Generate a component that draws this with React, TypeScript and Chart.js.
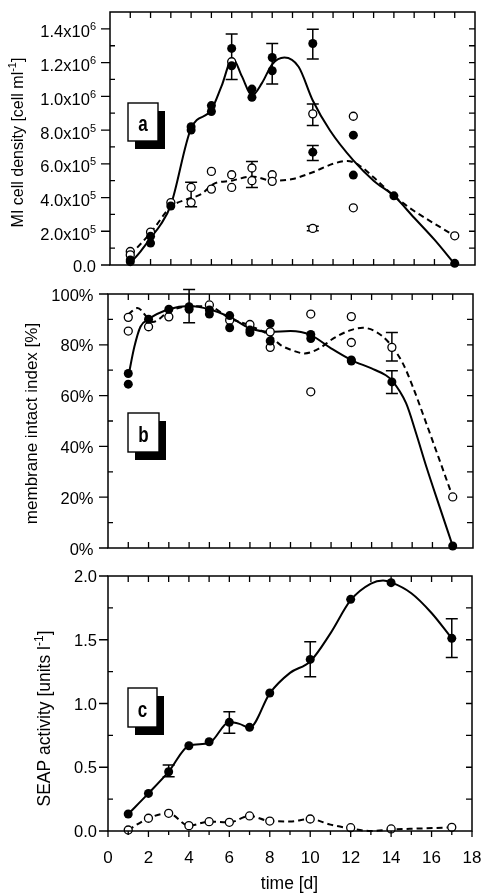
import React, { useEffect, useRef } from 'react';
import { Chart, registerables } from 'chart.js';

Chart.register(...registerables);

const FONT = '"Liberation Sans", Arial, Helvetica, sans-serif';

type Pair = [number, number];
type ErrBar = [number, number, number]; // day, low, high

// ---------- shared time axis ----------
const timeTicks = [0, 2, 4, 6, 8, 10, 12, 14, 16, 18];
const timeTickLabels = ['0', '2', '4', '6', '8', '10', '12', '14', '16', '18'];

// ---------- (a) MI cell density [cell/ml] ----------
const densityFilled: Pair[] = [
  [1, 30000], [1, 20000], [2, 130000], [2, 170000], [3, 350000], [4, 820000], [4, 800000],
  [5, 945000], [5, 910000], [6, 1284000], [6, 1181000], [7, 1043000], [7, 994000],
  [8, 1230000], [8, 1152000], [10, 1313000], [10, 669000], [12, 770000], [12, 533000],
  [14, 410000], [17, 10000],
];
const densityOpen: Pair[] = [
  [1, 80000], [1, 60000], [2, 195000], [3, 370000], [4, 460000], [4, 370000], [5, 555000],
  [5, 450000], [6, 1205000], [6, 535000], [6, 460000], [7, 575000], [7, 500000], [8, 535000],
  [8, 496000], [10, 896000], [10, 217000], [12, 882000], [12, 339000], [17, 173000],
];
const densityErrors: ErrBar[] = [
  [4, 345000, 490000], [6, 1100000, 1370000], [7, 459000, 614000], [8, 1073000, 1313000],
  [10, 1221000, 1398000], [10, 620000, 709000], [10, 827000, 955000], [10, 203000, 230000],
];
const densityFitSolid: Pair[] = [
  [1, 10000], [1.5, 80000], [2, 160000], [2.5, 240000], [3, 355000], [4, 810000], [5, 920000],
  [5.5, 1060000], [6.05, 1225000], [6.5, 1120000], [7, 1005000], [7.5, 1080000], [8, 1190000],
  [8.6, 1230000], [9.3, 1175000], [10, 975000], [10.85, 797000], [12, 620000], [13, 500000],
  [14, 410000], [15, 280000], [16, 150000], [17, 5000],
];
const densityFitDashed: Pair[] = [
  [1, 60000], [2, 190000], [3, 345000], [3.8, 390000], [4.5, 420000], [5.1, 480000],
  [6, 500000], [7, 525000], [8, 500000], [9, 510000], [10, 550000], [11, 600000],
  [11.7, 617000], [12.3, 590000], [13, 520000], [14, 410000], [15, 320000], [16, 245000],
  [17, 173000],
];
const densityTicks = [0, 200000, 400000, 600000, 800000, 1000000, 1200000, 1400000];
const densityTickLabels = ['0.0', '2.0x10', '4.0x10', '6.0x10', '8.0x10', '1.0x10', '1.2x10', '1.4x10'];
const densityTickExps = ['', '5', '5', '5', '5', '6', '6', '6'];

// ---------- (b) membrane intact index [%] ----------
const intactFilled: Pair[] = [
  [1, 68.7], [1, 64.5], [2, 90.1], [3, 94], [4, 95], [4, 94], [5, 93.7], [5, 92.1],
  [6, 91.5], [6, 86.7], [7, 85.8], [7, 84.8], [8, 88.4], [8, 81.5], [10, 84.1], [10, 82.5],
  [12, 74], [12, 73.6], [14, 65.4], [17, 0.8],
];
const intactOpen: Pair[] = [
  [1, 90.8], [1, 85.4], [2, 87.1], [3, 91], [5, 95.7], [6, 89.7], [7, 88], [8, 85.1],
  [8, 79], [10, 92.1], [10, 61.5], [12, 91.1], [12, 80.9], [14, 79], [17, 20.1],
];
const intactErrors: ErrBar[] = [[4, 88.7, 101.8], [14, 73.6, 84.8], [14, 60.8, 69.8]];
const intactFitSolid: Pair[] = [
  [1, 67.4], [1.3, 79.2], [1.6, 87.1], [2, 90.1], [3, 94], [4, 95.3], [5, 94], [6, 91],
  [7, 86.5], [8, 85.1], [9, 85.4], [10, 83.8], [11, 78.6], [12, 74], [13, 70.7], [13.7, 68],
  [14, 66], [14.7, 57], [15.2, 45], [15.7, 32], [16.35, 16.3], [17, 0.8],
];
const intactFitDashed: Pair[] = [
  [1, 92], [1.45, 94.5], [2.2, 89], [3, 93], [4, 95.2], [5, 95], [6, 90.5], [7, 87.5],
  [8, 83.5], [8.5, 80], [9.1, 77.8], [9.7, 76.6], [10.4, 78.5], [11.08, 82.3], [11.9, 85.6],
  [12.56, 86.7], [13.2, 85.2], [13.88, 80.6], [14.54, 72.7], [15.03, 63.5], [15.7, 49],
  [16.35, 34.6], [17, 20.1],
];
const intactTicks = [0, 20, 40, 60, 80, 100];
const intactTickLabels = ['0%', '20%', '40%', '60%', '80%', '100%'];

// ---------- (c) SEAP activity [units/l] ----------
const seapFilled: Pair[] = [
  [1, 0.133], [2, 0.295], [3, 0.465], [4, 0.669], [5, 0.7], [6, 0.852], [7, 0.813],
  [8, 1.082], [10, 1.346], [12, 1.817], [14, 1.948], [17, 1.511],
];
const seapOpen: Pair[] = [
  [1, 0.008], [2, 0.1], [3, 0.139], [4, 0.042], [5, 0.073], [6, 0.068], [7, 0.118],
  [8, 0.078], [10, 0.094], [12, 0.026], [14, 0.016], [17, 0.029],
];
const seapErrors: ErrBar[] = [[3, 0.426, 0.518], [6, 0.766, 0.936], [10, 1.21, 1.485], [17, 1.36, 1.665]];
const seapFitSolid: Pair[] = [
  [1, 0.133], [2, 0.295], [3, 0.465], [4, 0.669], [5, 0.69], [6, 0.855], [6.5, 0.84],
  [7, 0.81], [8, 1.08], [9, 1.24], [10, 1.33], [11, 1.55], [12, 1.81], [13, 1.94],
  [13.6, 1.965], [14, 1.95], [15, 1.865], [16, 1.71], [17, 1.511],
];
const seapFitDashed: Pair[] = [
  [1, 0.008], [2, 0.1], [3, 0.139], [4, 0.042], [5, 0.073], [6, 0.068], [7, 0.118],
  [8, 0.078], [9, 0.075], [10, 0.094], [11, 0.05], [12, 0.02], [13, 0.0], [14, 0.012],
  [15.5, 0.02], [17, 0.029],
];
const seapTicks = [0, 0.5, 1.0, 1.5, 2.0];
const seapTickLabels = ['0.0', '0.5', '1.0', '1.5', '2.0'];

// ---------- panel configuration ----------
type Seg = { t: string; sup?: boolean };

interface Panel {
  canvasTop: number;
  canvasHeight: number;
  padding: { left: number; right: number; top: number; bottom: number };
  yMax: number;
  yMinorStep: number;
  filled: Pair[];
  open: Pair[];
  errors: ErrBar[];
  fitSolid: Pair[];
  fitDashed: Pair[];
  yTicks: number[];
  yLabels: string[];
  yExps?: string[];
  labelRight: number;
  labelDrop: number;
  title: Seg[];
  titleX: number;
  titleY: number;
  titleSize: number;
  letter: string;
  box: { dx: number; dy: number; w: number; h: number };
  showTime: boolean;
}

const panels: Panel[] = [
  {
    canvasTop: 0, canvasHeight: 280,
    padding: { left: 110, right: 6, top: 12, bottom: 15 },
    yMax: 1500000, yMinorStep: 100000,
    filled: densityFilled, open: densityOpen, errors: densityErrors,
    fitSolid: densityFitSolid, fitDashed: densityFitDashed,
    yTicks: densityTicks, yLabels: densityTickLabels, yExps: densityTickExps,
    labelRight: 96, labelDrop: 7,
    title: [{ t: 'MI cell density [cell ml' }, { t: '-1', sup: true }, { t: ']' }],
    titleX: 18, titleY: 142.5, titleSize: 16,
    letter: 'a', box: { dx: 18, dy: 91, w: 30, h: 38 },
    showTime: false,
  },
  {
    canvasTop: 280, canvasHeight: 285,
    padding: { left: 108, right: 8, top: 14, bottom: 17 },
    yMax: 100, yMinorStep: 10,
    filled: intactFilled, open: intactOpen, errors: intactErrors,
    fitSolid: intactFitSolid, fitDashed: intactFitDashed,
    yTicks: intactTicks, yLabels: intactTickLabels,
    labelRight: 93.5, labelDrop: 6.5,
    title: [{ t: 'membrane intact index [%]' }],
    titleX: 31.5, titleY: 423.5, titleSize: 17,
    letter: 'b', box: { dx: 20, dy: 119, w: 31, h: 39 },
    showTime: false,
  },
  {
    canvasTop: 565, canvasHeight: 329,
    padding: { left: 108, right: 9, top: 11, bottom: 63 },
    yMax: 2.0, yMinorStep: 0.25,
    filled: seapFilled, open: seapOpen, errors: seapErrors,
    fitSolid: seapFitSolid, fitDashed: seapFitDashed,
    yTicks: seapTicks, yLabels: seapTickLabels,
    labelRight: 97, labelDrop: 6,
    title: [{ t: 'SEAP activity [units l' }, { t: '-1', sup: true }, { t: ']' }],
    titleX: 45, titleY: 718.5, titleSize: 17.5,
    letter: 'c', box: { dx: 20, dy: 112, w: 29, h: 39 },
    showTime: true,
  },
];

// Draws text made of normal and superscript runs along a baseline.
function drawRich(
  ctx: CanvasRenderingContext2D, segs: Seg[], x: number, y: number,
  size: number, align: 'right' | 'center',
) {
  const supSize = Math.round(size * 0.68);
  const raise = size * 0.42;
  const widths = segs.map((s) => {
    ctx.font = `${s.sup ? supSize : size}px ${FONT}`;
    return ctx.measureText(s.t).width;
  });
  const total = widths.reduce((a, b) => a + b, 0);
  let cx = align === 'right' ? x - total : x - total / 2;
  ctx.textAlign = 'left';
  ctx.textBaseline = 'alphabetic';
  segs.forEach((s, i) => {
    ctx.font = `${s.sup ? supSize : size}px ${FONT}`;
    ctx.fillText(s.t, cx, s.sup ? y - raise : y);
    cx += widths[i];
  });
}

function makeChart(canvas: HTMLCanvasElement, p: Panel) {
  const toXY = (arr: Pair[]) => arr.map(([x, y]) => ({ x, y }));
  const top = p.canvasTop;

  const decor = {
    id: 'panelDecor',
    beforeDatasetsDraw(chart: any) {
      const ctx: CanvasRenderingContext2D = chart.ctx;
      const xs = chart.scales.x;
      const ys = chart.scales.y;
      ctx.save();
      ctx.strokeStyle = '#000';
      ctx.lineWidth = 1.5;
      for (const [d, lo, hi] of p.errors) {
        const px = xs.getPixelForValue(d);
        const pl = ys.getPixelForValue(lo);
        const ph = ys.getPixelForValue(hi);
        ctx.beginPath();
        ctx.moveTo(px, pl); ctx.lineTo(px, ph);
        ctx.moveTo(px - 6, pl); ctx.lineTo(px + 6, pl);
        ctx.moveTo(px - 6, ph); ctx.lineTo(px + 6, ph);
        ctx.stroke();
      }
      ctx.restore();
    },
    afterDraw(chart: any) {
      const ctx: CanvasRenderingContext2D = chart.ctx;
      const a = chart.chartArea;
      const xs = chart.scales.x;
      const ys = chart.scales.y;
      ctx.save();
      ctx.strokeStyle = '#000';
      ctx.fillStyle = '#000';
      ctx.lineWidth = 1.5;

      // frame
      ctx.strokeRect(a.left, a.top, a.right - a.left, a.bottom - a.top);

      ctx.lineWidth = 1.3;
      ctx.beginPath();
      // day ticks on top (inward) and bottom
      for (let d = 0; d <= 18; d++) {
        const px = xs.getPixelForValue(d);
        if (d > 0 && d < 18) {
          ctx.moveTo(px, a.top); ctx.lineTo(px, a.top + 6);
        }
        if (p.showTime) {
          const len = d % 2 === 0 ? 6 : 4;
          ctx.moveTo(px, a.bottom); ctx.lineTo(px, a.bottom + len);
        } else if (d > 0 && d < 18) {
          ctx.moveTo(px, a.bottom); ctx.lineTo(px, a.bottom - 6);
        }
      }
      // value ticks: labelled ones point outward on the left, the rest inward
      const steps = Math.round(p.yMax / p.yMinorStep);
      for (let i = 0; i <= steps; i++) {
        const v = i * p.yMinorStep;
        const py = ys.getPixelForValue(v);
        const major = p.yTicks.some((t) => Math.abs(t - v) < p.yMinorStep / 10);
        if (major) {
          ctx.moveTo(a.left, py); ctx.lineTo(a.left - 9, py);
        } else if (i > 0 && i < steps) {
          ctx.moveTo(a.left, py); ctx.lineTo(a.left + 5, py);
        }
        if (i > 0 && i < steps) {
          ctx.moveTo(a.right, py); ctx.lineTo(a.right - 6, py);
        }
      }
      ctx.stroke();

      // value labels
      p.yTicks.forEach((v, i) => {
        const py = ys.getPixelForValue(v);
        const exp = p.yExps ? p.yExps[i] : '';
        const segs: Seg[] = [{ t: p.yLabels[i] }];
        if (exp) segs.push({ t: exp, sup: true });
        drawRich(ctx, segs, p.labelRight, py + (exp ? p.labelDrop + 1.5 : p.labelDrop), 16.5, 'right');
      });

      // time labels and title
      if (p.showTime) {
        ctx.font = `17px ${FONT}`;
        ctx.textAlign = 'center';
        ctx.textBaseline = 'alphabetic';
        timeTicks.forEach((d, i) => {
          ctx.fillText(timeTickLabels[i], xs.getPixelForValue(d), 863 - top);
        });
        ctx.font = `17.5px ${FONT}`;
        ctx.fillText('time [d]', 289.5, 889 - top);
      }

      // rotated value-axis title
      ctx.save();
      ctx.translate(p.titleX, p.titleY - top);
      ctx.rotate(-Math.PI / 2);
      drawRich(ctx, p.title, 0, p.titleSize * 0.3, p.titleSize, 'center');
      ctx.restore();

      // panel letter in a box with a drop shadow
      const bx = a.left + p.box.dx;
      const by = a.top + p.box.dy;
      ctx.fillStyle = '#000';
      ctx.fillRect(bx + 7, by + 8, p.box.w, p.box.h);
      ctx.fillStyle = '#fff';
      ctx.fillRect(bx, by, p.box.w, p.box.h);
      ctx.lineWidth = 1.4;
      ctx.strokeStyle = '#000';
      ctx.strokeRect(bx, by, p.box.w, p.box.h);
      ctx.save();
      ctx.translate(bx + p.box.w / 2, by + p.box.h - 10);
      ctx.scale(1, 1.35);
      ctx.fillStyle = '#000';
      ctx.font = `bold 17px ${FONT}`;
      ctx.textAlign = 'center';
      ctx.textBaseline = 'alphabetic';
      ctx.fillText(p.letter, 0, 0);
      ctx.restore();

      ctx.restore();
    },
  };

  return new Chart(canvas, {
    type: 'line',
    data: {
      datasets: [
        {
          data: toXY(p.filled), showLine: false, pointRadius: 4.5, pointBorderWidth: 0,
          pointBackgroundColor: '#000', pointBorderColor: '#000', order: 1, clip: false,
        } as any,
        {
          data: toXY(p.open), showLine: false, pointRadius: 4, pointBorderWidth: 1.3,
          pointBackgroundColor: '#fff', pointBorderColor: '#000', order: 1, clip: false,
        } as any,
        {
          data: toXY(p.fitSolid), pointRadius: 0, borderColor: '#000', borderWidth: 2,
          cubicInterpolationMode: 'monotone', fill: false, order: 2, clip: false,
        } as any,
        {
          data: toXY(p.fitDashed), pointRadius: 0, borderColor: '#000', borderWidth: 2,
          borderDash: [6, 4], cubicInterpolationMode: 'monotone', fill: false, order: 3, clip: false,
        } as any,
      ],
    },
    options: {
      animation: false,
      responsive: false,
      devicePixelRatio: 1,
      events: [],
      layout: { padding: p.padding, autoPadding: false },
      scales: {
        x: { type: 'linear', min: 0, max: 18, display: false },
        y: { type: 'linear', min: 0, max: p.yMax, display: false },
      },
      plugins: { legend: { display: false }, tooltip: { enabled: false } },
    } as any,
    plugins: [decor],
  });
}

export default function App() {
  const refs = [
    useRef<HTMLCanvasElement>(null),
    useRef<HTMLCanvasElement>(null),
    useRef<HTMLCanvasElement>(null),
  ];

  useEffect(() => {
    const charts = panels.map((p, i) => makeChart(refs[i].current as HTMLCanvasElement, p));
    return () => charts.forEach((c) => c.destroy());
  }, []);

  return (
    <div style={{ position: 'absolute', left: 0, top: 0, width: 481, height: 894, background: '#fff' }}>
      {panels.map((p, i) => (
        <canvas
          key={p.letter}
          ref={refs[i]}
          width={481}
          height={p.canvasHeight}
          style={{ position: 'absolute', left: 0, top: p.canvasTop, width: 481, height: p.canvasHeight }}
        />
      ))}
    </div>
  );
}
